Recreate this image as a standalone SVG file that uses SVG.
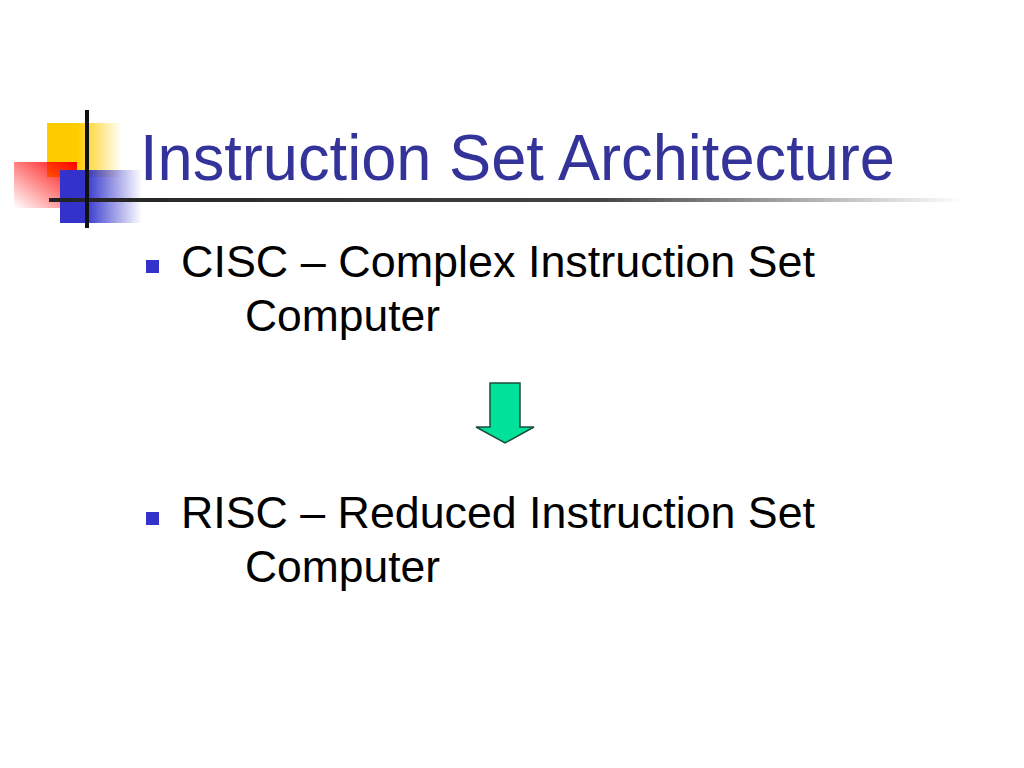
<svg xmlns="http://www.w3.org/2000/svg" width="1024" height="768" viewBox="0 0 1024 768">
<defs>
<linearGradient id="gy" x1="0" x2="1"><stop offset="0.4" stop-color="#ffcc00"/><stop offset="1" stop-color="#ffcc00" stop-opacity="0"/></linearGradient>
<linearGradient id="gb" x1="0" x2="1"><stop offset="0.3" stop-color="#3333cc"/><stop offset="1" stop-color="#3333cc" stop-opacity="0"/></linearGradient>
<linearGradient id="gr" x1="1" y1="0" x2="0" y2="1"><stop offset="0" stop-color="#ff0000"/><stop offset="1" stop-color="#ff0000" stop-opacity="0"/></linearGradient>
<linearGradient id="gl" x1="0" x2="1"><stop offset="0" stop-color="#222"/><stop offset="0.6" stop-color="#444"/><stop offset="1" stop-color="#444" stop-opacity="0"/></linearGradient>
<style>
.t{font-family:"Liberation Sans",Arial,sans-serif;fill:#000;font-size:44px}
.b{fill:#3333cc}
</style>
</defs>
<rect width="1024" height="768" fill="#fff"/>
<g id="logo">
<rect x="47" y="123" width="75" height="54" fill="url(#gy)"/>
<rect x="14" y="162" width="63" height="46" fill="url(#gr)"/>
<rect x="60" y="170" width="82" height="53" fill="url(#gb)"/>
<rect x="49" y="198" width="915" height="4" fill="url(#gl)"/>
<rect x="85" y="110" width="4" height="118" fill="#111"/>
</g>
<text x="140" y="180" font-family="Liberation Sans,Arial,sans-serif" font-size="64" fill="#333399" textLength="755" lengthAdjust="spacingAndGlyphs">Instruction Set Architecture</text>
<g id="cisc">
<rect class="b" x="146" y="260" width="13" height="13"/>
<text class="t" x="181" y="277" textLength="634" lengthAdjust="spacingAndGlyphs">CISC – Complex Instruction Set</text>
<text class="t" x="245" y="331" textLength="195" lengthAdjust="spacingAndGlyphs">Computer</text>
</g>
<g id="connectors">
<path d="M490 383 H520 V427 H534 L505 443 L476 427 H490 Z" fill="#00e29a" stroke="#1a4d3a" stroke-width="1.5"/>
</g>
<g id="risc">
<rect class="b" x="146" y="512" width="13" height="13"/>
<text class="t" x="181" y="528" textLength="634" lengthAdjust="spacingAndGlyphs">RISC – Reduced Instruction Set</text>
<text class="t" x="245" y="582" textLength="195" lengthAdjust="spacingAndGlyphs">Computer</text>
</g>
</svg>
